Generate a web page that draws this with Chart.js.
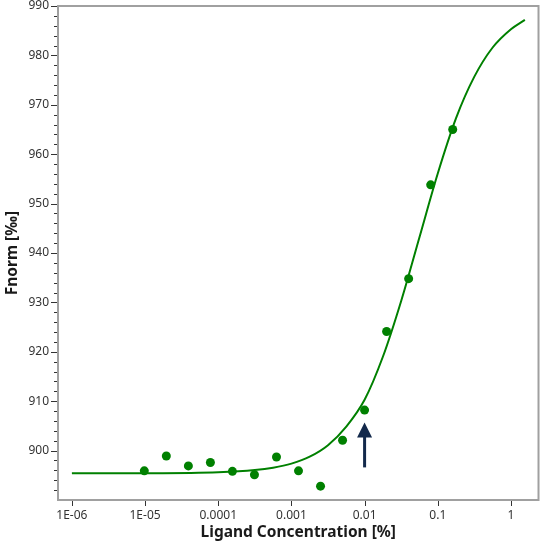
<!DOCTYPE html>
<html>
<head>
<meta charset="utf-8">
<script src="https://cdn.jsdelivr.net/npm/chart.js@4.4.1/dist/chart.umd.min.js"></script>
<style>
  html, body { margin: 0; padding: 0; background: #ffffff; }
  #wrap { width: 543px; height: 545px; }
</style>
</head>
<body>
<div id="wrap"><canvas id="c" width="543" height="545"></canvas></div>
<script>
// ---- data ----
const concentrations = [9.765625e-6, 1.953125e-5, 3.90625e-5, 7.8125e-5, 1.5625e-4, 3.125e-4, 6.25e-4, 1.25e-3, 2.5e-3, 5e-3, 0.01, 0.02, 0.04, 0.08, 0.16];
const fnorm = [895.9, 898.9, 896.9, 897.6, 895.8, 895.1, 898.7, 895.9, 892.8, 902.1, 908.2, 924.1, 934.8, 953.8, 965.0];

// fitted curve
const fitConc = [1e-6, 1e-5, 1e-4, 3.162e-4, 5.623e-4, 1e-3, 1.778e-3, 3.162e-3, 5.623e-3, 0.01, 0.01778, 0.03162, 0.05623, 0.1, 0.1778, 0.3162, 0.5623, 1.0, 1.55];
const fitFnorm = [895.40, 895.42, 895.62, 896.06, 896.54, 897.36, 898.76, 901.09, 904.87, 910.3, 919.0, 930.3, 943.2, 956.1, 967.3, 975.7, 981.6, 985.3, 987.2];

const xTickValues = [1e-6, 1e-5, 1e-4, 1e-3, 1e-2, 1e-1, 1];
const xTickLabels = ["1E-06", "1E-05", "0.0001", "0.001", "0.01", "0.1", "1"];
const yTickValues = [900, 910, 920, 930, 940, 950, 960, 970, 980, 990];

const arrowX = 0.01;
const arrowFrom = 896.6;
const arrowTo = 905.7;

const xMin = 6.46e-7, xMax = 2.38;
const yMin = 890, yMax = 990;

// ---- drawing helpers ----
const FONT = "'Noto Sans', 'Open Sans', 'DejaVu Sans', sans-serif";
const GREEN = '#008000';

const decorPlugin = {
  id: 'decor',
  afterDatasetsDraw(chart) {
    const {ctx, scales: {x, y}} = chart;
    ctx.save();
    const ax = x.getPixelForValue(arrowX);
    const yTip = y.getPixelForValue(arrowTo);
    const yTail = y.getPixelForValue(arrowFrom);
    ctx.fillStyle = '#13294b';
    ctx.strokeStyle = '#13294b';
    ctx.lineWidth = 3;
    ctx.beginPath();
    ctx.moveTo(ax, yTip + 12);
    ctx.lineTo(ax, yTail);
    ctx.stroke();
    ctx.beginPath();
    ctx.moveTo(ax, yTip);
    ctx.lineTo(ax + 7.5, yTip + 15);
    ctx.lineTo(ax - 7.5, yTip + 15);
    ctx.closePath();
    ctx.fill();
    ctx.restore();
  },
  afterDraw(chart) {
    const {ctx, chartArea: a, scales: {x, y}} = chart;
    ctx.save();
    ctx.strokeStyle = '#a0a0a0';
    ctx.lineWidth = 2;
    ctx.strokeRect(a.left, a.top, a.right - a.left, a.bottom - a.top);
    ctx.strokeStyle = '#333333';
    ctx.lineWidth = 1;
    ctx.beginPath();
    xTickValues.forEach(v => {
      const px = Math.round(x.getPixelForValue(v)) + 0.5;
      ctx.moveTo(px, a.bottom + 1);
      ctx.lineTo(px, a.bottom + 6);
    });
    for (let v = yMin + 2; v <= yMax; v += 2) {
      const py = Math.round(y.getPixelForValue(v)) + 0.5;
      const len = (v % 10 === 0) ? 6 : 3;
      ctx.moveTo(a.left - 1 - len, py);
      ctx.lineTo(a.left - 1, py);
    }
    ctx.stroke();
    ctx.restore();
  }
};

new Chart(document.getElementById('c'), {
  data: {
    datasets: [
      {
        type: 'scatter',
        label: 'Data',
        data: concentrations.map((c, i) => ({x: c, y: fnorm[i]})),
        backgroundColor: GREEN,
        borderColor: GREEN,
        pointRadius: 4.5,
        pointHoverRadius: 4.5,
        borderWidth: 0,
        order: 1
      },
      {
        type: 'line',
        label: 'Fit',
        data: fitConc.map((c, i) => ({x: c, y: fitFnorm[i]})),
        borderColor: GREEN,
        borderWidth: 2,
        pointRadius: 0,
        fill: false,
        cubicInterpolationMode: 'monotone',
        order: 2
      }
    ]
  },
  options: {
    responsive: false,
    animation: false,
    devicePixelRatio: 1,
    layout: { padding: { top: 6, right: 2, left: 0, bottom: 0 } },
    plugins: { legend: { display: false }, tooltip: { enabled: false } },
    scales: {
      x: {
        type: 'logarithmic',
        min: xMin,
        max: xMax,
        grid: { display: false },
        border: { display: false },
        afterBuildTicks(scale) {
          scale.ticks = xTickValues.map(v => ({value: v}));
        },
        afterFit(scale) {
          scale.height = 45;
          scale.paddingLeft = 0;
          scale.paddingRight = 0;
        },
        ticks: {
          autoSkip: false,
          maxRotation: 0,
          padding: 0,
          color: '#333333',
          font: { family: FONT, size: 12 },
          callback: (v) => {
            const i = xTickValues.findIndex(t => Math.abs(Math.log10(t) - Math.log10(v)) < 1e-6);
            return i >= 0 ? xTickLabels[i] : '';
          }
        },
        title: {
          display: true,
          text: 'Ligand Concentration [%]',
          color: '#1a1a1a',
          font: { family: FONT, size: 15.5, weight: 'bold' },
          padding: { top: 0, bottom: 3 }
        }
      },
      y: {
        type: 'linear',
        min: yMin,
        max: yMax,
        grid: { display: false },
        border: { display: false },
        afterBuildTicks(scale) {
          scale.ticks = yTickValues.map(v => ({value: v}));
        },
        afterFit(scale) {
          scale.width = 58;
          scale.paddingTop = 0;
          scale.paddingBottom = 0;
        },
        ticks: {
          autoSkip: false,
          padding: 1,
          color: '#333333',
          font: { family: FONT, size: 12 },
          callback: (v) => String(v)
        },
        title: {
          display: true,
          text: 'Fnorm [‰]',
          color: '#1a1a1a',
          font: { family: FONT, size: 15.5, weight: 'bold' },
          padding: { top: 3, bottom: 0 }
        }
      }
    }
  },
  plugins: [decorPlugin]
});
</script>
</body>
</html>
